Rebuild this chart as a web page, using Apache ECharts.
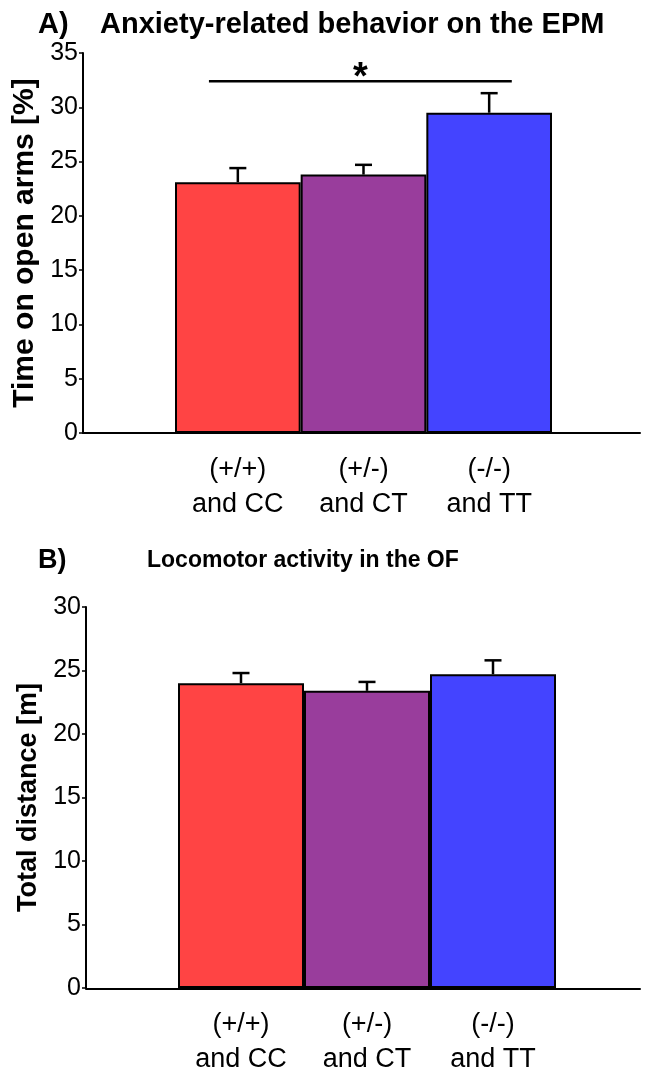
<!DOCTYPE html>
<html>
<head>
<meta charset="utf-8">
<script src="https://cdn.jsdelivr.net/npm/echarts@6/dist/echarts.min.js"></script>
<style>
  html, body { margin: 0; padding: 0; background: #fff; }
  #main { width: 646px; height: 1077px; }
</style>
</head>
<body>
<div id="main"></div>
<script>
// genotype groups
const groups = ['(+/+)\nand CC', '(+/-)\nand CT', '(-/-)\nand TT'];
const barColors = ['#ff4444', '#993d9c', '#4444ff'];

// A) time on open arms [%], mean and SEM
const epmMean = [23.1, 23.8, 29.5];
const epmSem = [1.3, 0.9, 1.8];
const epmMax = 35;

// significance bracket (category index span, y value)
const sigSpan = [-0.23, 2.18];
const sigY = 32.4;
const sigText = '*';

// B) total distance [m], mean and SEM
const ofMean = [24.0, 23.4, 24.7];
const ofSem = [0.8, 0.7, 1.1];
const ofMax = 30;

const tickStep = 5;
const font = 'Liberation Sans, Arial, sans-serif';

function barData(means) {
    return means.map((v, i) => ({
        value: v,
        itemStyle: { color: barColors[i] }
    }));
}

function errData(means, sems) {
    return means.map((v, i) => [i, v, v + sems[i]]);
}

function renderErr(params, api) {
    let base = api.coord([api.value(0), api.value(1)]);
    let top = api.coord([api.value(0), api.value(2)]);
    let half = 8.5;
    let st = { stroke: '#000', lineWidth: 2.5 };
    return {
        type: 'group',
        children: [
            { type: 'line', shape: { x1: base[0], y1: base[1], x2: top[0], y2: top[1] }, style: st },
            { type: 'line', shape: { x1: top[0] - half, y1: top[1], x2: top[0] + half, y2: top[1] }, style: st }
        ]
    };
}

function renderSig(params, api) {
    let band = api.size([1, 0])[0];
    let p0 = api.coord([0, api.value(1)]);
    let x1 = p0[0] + api.value(0) * band;
    let x2 = p0[0] + api.value(2) * band;
    return {
        type: 'group',
        children: [
            { type: 'line', shape: { x1: x1, y1: p0[1], x2: x2, y2: p0[1] }, style: { stroke: '#000', lineWidth: 2.5 } },
            { type: 'text', x: (x1 + x2) / 2, y: p0[1] - 3, style: { text: sigText, fill: '#000', font: 'bold 38px ' + font, align: 'center', verticalAlign: 'middle' } }
        ]
    };
}

function valueAxis(gridIndex, max, name, nameGap, nameSize) {
    return {
        type: 'value',
        gridIndex: gridIndex,
        min: 0,
        max: max,
        interval: tickStep,
        offset: 92,
        name: name,
        nameLocation: 'middle',
        nameRotate: 90,
        nameGap: nameGap,
        nameTextStyle: { color: '#000', fontFamily: font, fontSize: nameSize, fontWeight: 'bold' },
        axisLine: { show: true, lineStyle: { color: '#000', width: 2 } },
        axisTick: { show: true, length: 4, lineStyle: { color: '#000', width: 1.5 } },
        axisLabel: { color: '#000', fontFamily: font, fontSize: 25, margin: 5 },
        splitLine: { show: false }
    };
}

function catAxis(gridIndex) {
    return {
        type: 'category',
        gridIndex: gridIndex,
        data: groups,
        axisLine: { show: false },
        axisTick: { show: false },
        axisLabel: { color: '#000', fontFamily: font, fontSize: 27, lineHeight: 35, margin: 19 }
    };
}

// long baseline that runs past the bars
function baseAxis(gridIndex) {
    return {
        type: 'category',
        gridIndex: gridIndex,
        data: groups,
        axisLine: { show: true, lineStyle: { color: '#000', width: 2 } },
        axisTick: { show: false },
        axisLabel: { show: false }
    };
}

function hiddenY(gridIndex, max) {
    return { type: 'value', gridIndex: gridIndex, min: 0, max: max, show: false };
}

let titleA = { color: '#000', fontFamily: font, fontSize: 29, fontWeight: 'bold' };
let labelB = { color: '#000', fontFamily: font, fontSize: 27, fontWeight: 'bold' };
let titleB = { color: '#000', fontFamily: font, fontSize: 23, fontWeight: 'bold' };

let option = {
    backgroundColor: '#fff',
    animation: false,
    title: [
        { text: 'A)', left: 33, top: 5, textStyle: titleA },
        { text: 'Anxiety-related behavior on the EPM', left: 95, top: 5, textStyle: titleA },
        { text: 'B)', left: 33, top: 542, textStyle: labelB },
        { text: 'Locomotor activity in the OF', left: 142, top: 544, textStyle: titleB }
    ],
    grid: [
        { left: 175, right: 94, top: 53, height: 380 },
        { left: 83, right: 6, top: 53, height: 380 },
        { left: 178, right: 90, top: 607, height: 382 },
        { left: 86, right: 6, top: 607, height: 382 }
    ],
    xAxis: [catAxis(0), baseAxis(1), catAxis(2), baseAxis(3)],
    yAxis: [
        valueAxis(0, epmMax, 'Time on open arms [%]', 38, 30),
        hiddenY(1, epmMax),
        valueAxis(2, ofMax, 'Total distance [m]', 41, 27),
        hiddenY(3, ofMax)
    ],
    series: [
        {
            type: 'bar', xAxisIndex: 0, yAxisIndex: 0,
            barCategoryGap: '0%',
            itemStyle: { borderColor: '#000', borderWidth: 2 },
            data: barData(epmMean)
        },
        {
            type: 'custom', xAxisIndex: 0, yAxisIndex: 0,
            renderItem: renderErr,
            data: errData(epmMean, epmSem), z: 1
        },
        {
            type: 'custom', xAxisIndex: 0, yAxisIndex: 0,
            renderItem: renderSig,
            data: [[sigSpan[0], sigY, sigSpan[1]]]
        },
        {
            type: 'bar', xAxisIndex: 2, yAxisIndex: 2,
            barCategoryGap: '0%',
            itemStyle: { borderColor: '#000', borderWidth: 2 },
            data: barData(ofMean)
        },
        {
            type: 'custom', xAxisIndex: 2, yAxisIndex: 2,
            renderItem: renderErr,
            data: errData(ofMean, ofSem), z: 1
        }
    ]
};

let myChart = echarts.init(document.getElementById('main'));
myChart.setOption(option);
</script>
</body>
</html>
